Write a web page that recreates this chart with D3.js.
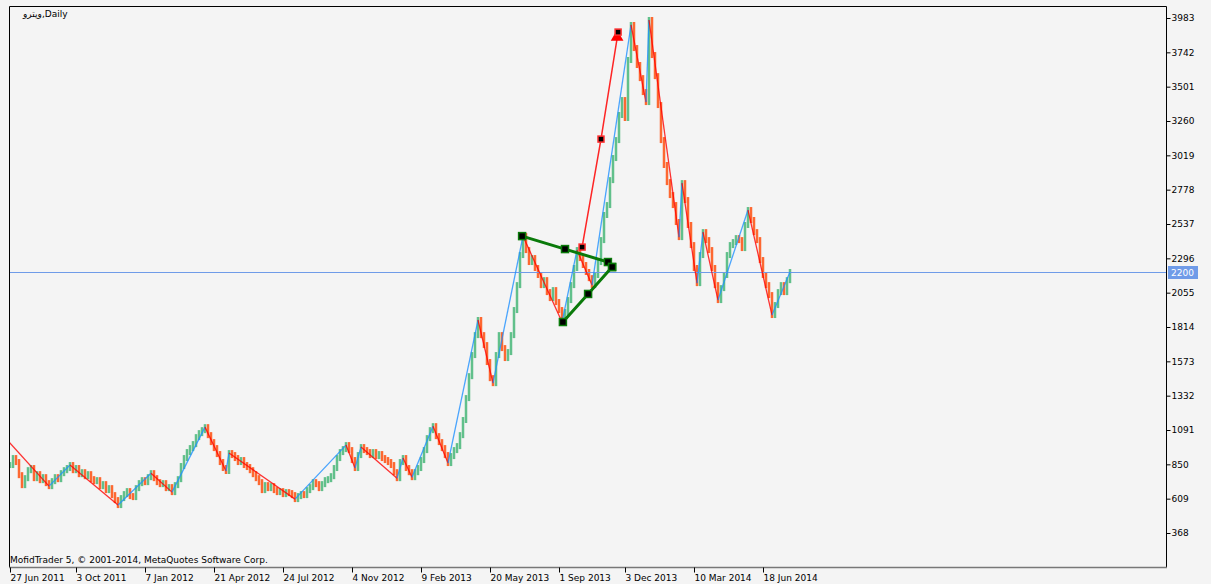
<!DOCTYPE html>
<html>
<head>
<meta charset="utf-8">
<script src="https://cdnjs.cloudflare.com/ajax/libs/d3/7.8.5/d3.min.js"></script>
<style>
	html, body { margin: 0; padding: 0; background: #f4f4f4; }
	svg { display: block; }
	.axis text { font-family: "DejaVu Sans", sans-serif; font-size: 9px; fill: #000; }
	.axis line { stroke: #000; }
</style>
</head>
<body>
<div id="chart"></div>
<script>
// daily closes, one entry per ~3 bars
let closes = [
	845, 894, 866, 774, 704, 753, 809, 824, 753, 781,
	739, 760, 718, 697, 732, 760, 746, 788, 809, 824,
	845, 809, 824, 781, 795, 767, 781, 746, 732, 739,
	697, 711, 669, 683, 634, 599, 564, 613, 641, 662,
	627, 620, 683, 718, 739, 725, 760, 788, 753, 725,
	711, 718, 683, 690, 655, 704, 746, 838, 894, 936,
	964, 992, 1041, 1069, 1090, 1111, 1055, 1006, 964, 922,
	866, 824, 803, 929, 915, 894, 866, 880, 845, 831,
	809, 781, 753, 725, 669, 704, 683, 697, 669, 655,
	662, 641, 655, 648, 634, 606, 627, 641, 634, 669,
	690, 725, 711, 683, 711, 739, 746, 767, 824, 894,
	936, 957, 985, 950, 880, 824, 915, 971, 950, 936,
	915, 936, 908, 922, 894, 880, 866, 845, 795, 753,
	866, 894, 824, 795, 760, 795, 824, 880, 950, 1034,
	1090, 1118, 1048, 1006, 964, 915, 859, 908, 950, 978,
	1055, 1161, 1315, 1469, 1617, 1757, 1863, 1757, 1687, 1568,
	1455, 1420, 1617, 1757, 1666, 1596, 1638, 1757, 1933, 2108,
	2319, 2452, 2354, 2270, 2298, 2228, 2179, 2108, 2143, 2059,
	2017, 2073, 1989, 1933, 1849, 1919, 2003, 2108, 2228, 2354,
	2298, 2249, 2200, 2157, 2108, 2179, 2270, 2424, 2600, 2670,
	2845, 3000, 3126, 3302, 3407, 3281, 3688, 3934, 3772, 3653,
	3561, 3463, 3393, 3969, 3723, 3575, 3372, 3126, 2951, 2831,
	2740, 2670, 2551, 2445, 2824, 2705, 2530, 2389, 2228, 2122,
	2319, 2480, 2424, 2354, 2228, 2108, 2003, 2087, 2179, 2319,
	2389, 2410, 2438, 2424, 2368, 2530, 2635, 2565, 2480, 2424,
	2284, 2179, 2108, 2038, 1898, 1968, 2059, 2108, 2059, 2143,
	2200
];

// zigzag pivots (bar index, price)
let zzIdx = [-3, 13, 20, 36, 47, 54, 65, 72, 73, 95, 112, 115, 117, 129, 131, 134, 141, 146, 156, 161, 171, 184, 189, 194, 207, 212, 213, 223, 224, 229, 231, 236, 246, 254, 260];
let zzVal = [1069, 697, 845, 564, 788, 655, 1111, 803, 929, 606, 985, 824, 971, 753, 894, 760, 1118, 859, 1863, 1420, 2452, 1849, 2354, 2108, 3934, 3393, 3969, 2445, 2824, 2122, 2480, 2003, 2635, 1898, 2200];

// green pattern
let patTopIdx = [170.7, 185, 199.3, 200.7];
let patTopVal = [2452, 2361, 2270, 2235];
let patBotIdx = [184.3, 192.7, 200.7];
let patBotVal = [1849, 2046, 2235];

// red projection
let projIdx = [190.7, 197, 202.7];
let projVal = [2375, 3133, 3884];

let yTicks = [368, 609, 850, 1091, 1332, 1573, 1814, 2055, 2296, 2537, 2778, 3019, 3260, 3501, 3742, 3983];
let dateIdx = [0, 22, 45, 68, 91, 114, 137, 160, 183, 205, 228, 251];
let dateLabels = ['27 Jun 2011', '3 Oct 2011', '7 Jan 2012', '21 Apr 2012', '24 Jul 2012', '4 Nov 2012', '9 Feb 2013', '20 May 2013', '1 Sep 2013', '3 Dec 2013', '10 Mar 2014', '18 Jun 2014'];
let lastPrice = 2200;

let W = 1211, H = 584,
	pLeft = 9, pTop = 6, pRight = 1166, pBottom = 567;

let x = d3.scaleLinear().domain([0, 385]).range([10, 1165]);
let y = d3.scaleLinear().domain([368, 3983]).range([533, 18]);

let svg = d3.select('#chart').append('svg')
	.attr('width', W)
	.attr('height', H);

svg.append('rect')
	.attr('width', W).attr('height', H)
	.attr('fill', '#f4f4f4');

svg.append('defs').append('clipPath')
	.attr('id', 'plot')
	.append('rect')
	.attr('x', pLeft).attr('y', pTop)
	.attr('width', pRight - pLeft).attr('height', pBottom - pTop);

let plot = svg.append('g').attr('clip-path', 'url(#plot)');

// bars
let bars = closes.map(function(c, i){
	let p = i == 0 ? c : closes[i - 1];
	return {i: i, lo: Math.min(p, c), hi: Math.max(p, c), up: c >= p};
});

plot.selectAll('.bar')
	.data(bars)
	.enter()
	.append('line')
	.attr('class', 'bar')
	.attr('x1', d => x(d.i)).attr('x2', d => x(d.i))
	.attr('y1', d => y(d.hi) - 3)
	.attr('y2', d => y(d.lo) + 3)
	.attr('stroke', d => d.up ? '#3cb371' : '#ff4500')
	.attr('stroke-opacity', 0.8)
	.attr('stroke-width', 2.5);

// current price line
plot.append('line')
	.attr('x1', pLeft).attr('x2', pRight)
	.attr('y1', Math.round(y(lastPrice)) + 0.5).attr('y2', Math.round(y(lastPrice)) + 0.5)
	.attr('stroke', '#6f9be8')
	.attr('stroke-width', 1);

// zigzag
let zz = zzIdx.map((d, i) => ({i: d, v: zzVal[i]}));
plot.selectAll('.zz')
	.data(zz.slice(1))
	.enter()
	.append('line')
	.attr('class', 'zz')
	.attr('x1', (d, k) => x(zz[k].i)).attr('y1', (d, k) => y(zz[k].v))
	.attr('x2', d => x(d.i)).attr('y2', d => y(d.v))
	.attr('stroke', (d, k) => d.v < zz[k].v ? '#ff0000' : '#1e90ff')
	.attr('stroke-opacity', 0.8)
	.attr('stroke-width', 1.3);

// green pattern
let line = d3.line()
	.x(d => x(d[0]))
	.y(d => y(d[1]));

let patTop = patTopIdx.map((d, i) => [d, patTopVal[i]]);
let patBot = patBotIdx.map((d, i) => [d, patBotVal[i]]);

[patTop, patBot].forEach(function(p){
	plot.append('path')
		.datum(p)
		.attr('d', line)
		.attr('fill', 'none')
		.attr('stroke', '#0a7a0a')
		.attr('stroke-width', 3);
});

plot.selectAll('.pat')
	.data(patTop.concat(patBot))
	.enter()
	.append('rect')
	.attr('class', 'pat')
	.attr('x', d => x(d[0]) - 3.5).attr('y', d => y(d[1]) - 3.5)
	.attr('width', 7).attr('height', 7)
	.attr('fill', '#000')
	.attr('stroke', '#0a7a0a')
	.attr('stroke-width', 1.5);

// red projection
let proj = projIdx.map((d, i) => [d, projVal[i]]);
plot.append('path')
	.datum(proj)
	.attr('d', line)
	.attr('fill', 'none')
	.attr('stroke', '#ff0000')
	.attr('stroke-opacity', 0.85)
	.attr('stroke-width', 1.5);

let tip = proj[proj.length - 1];
plot.append('path')
	.attr('d', d3.symbol(d3.symbolTriangle, 70)())
	.attr('transform', 'translate(' + (x(tip[0]) - 1) + ',' + (y(tip[1]) + 5) + ')')
	.attr('fill', '#ff0000');

plot.selectAll('.proj')
	.data(proj)
	.enter()
	.append('rect')
	.attr('class', 'proj')
	.attr('x', d => x(d[0]) - 3).attr('y', d => y(d[1]) - 3)
	.attr('width', 6).attr('height', 6)
	.attr('fill', '#000')
	.attr('stroke', '#ff3030')
	.attr('stroke-width', 1.5);

// frame
svg.append('path')
	.attr('d', 'M' + (pLeft + 0.5) + ',' + pBottom + 'V' + (pTop + 0.5) + 'H' + (pRight + 0.5) + 'V' + pBottom)
	.attr('fill', 'none')
	.attr('stroke', '#000')
	.attr('stroke-width', 1);

svg.append('line')
	.attr('x1', pLeft).attr('x2', pRight + 1)
	.attr('y1', pBottom + 0.5).attr('y2', pBottom + 0.5)
	.attr('stroke', '#777')
	.attr('stroke-width', 1.5);

// axes
let yAxis = d3.axisRight(y)
	.tickValues(yTicks)
	.tickFormat(d3.format('d'))
	.tickSize(4)
	.tickPadding(1)
	.tickSizeOuter(0);

let gy = svg.append('g')
	.attr('class', 'axis')
	.attr('transform', 'translate(' + (pRight + 0.5) + ',0)')
	.call(yAxis);
gy.select('.domain').remove();

let xAxis = d3.axisBottom(x)
	.tickValues(dateIdx)
	.tickFormat((d, i) => dateLabels[i])
	.tickSize(5)
	.tickPadding(2)
	.tickSizeOuter(0);

let gx = svg.append('g')
	.attr('class', 'axis')
	.attr('transform', 'translate(0,' + (pBottom + 0.5) + ')')
	.call(xAxis);
gx.select('.domain').remove();
gx.selectAll('text').attr('text-anchor', 'start').attr('x', 0);
gx.selectAll('line').attr('stroke', '#555');

// last price label
let ly = Math.round(y(lastPrice));
svg.append('rect')
	.attr('x', pRight + 2).attr('y', ly - 6)
	.attr('width', 30).attr('height', 13)
	.attr('fill', '#6f9be8');
svg.append('text')
	.attr('x', pRight + 5).attr('y', ly + 4)
	.attr('font-family', 'DejaVu Sans, sans-serif')
	.attr('font-size', 9)
	.attr('fill', '#fff')
	.text(lastPrice);

// titles
svg.append('text')
	.attr('x', 23).attr('y', 17)
	.attr('font-family', 'DejaVu Sans, sans-serif')
	.attr('font-size', 9)
	.text('وپترو,Daily');

svg.append('text')
	.attr('x', 10).attr('y', 563)
	.attr('font-family', 'DejaVu Sans, sans-serif')
	.attr('font-size', 9)
	.text('MofidTrader 5, © 2001-2014, MetaQuotes Software Corp.');
</script>
</body>
</html>
